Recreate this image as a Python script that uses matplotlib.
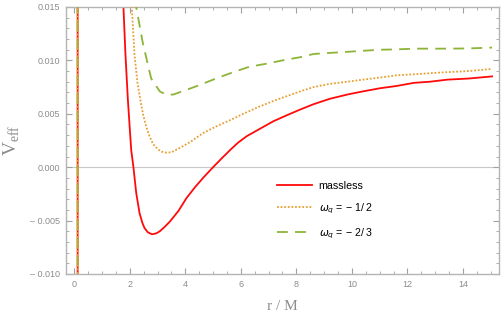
import numpy as np
import matplotlib
matplotlib.use("Agg")
import matplotlib.pyplot as plt
from matplotlib.ticker import FixedLocator, MultipleLocator

# values (r/M, V_eff); nan splits the spike near r~0.12
r_massless = [0.12, 0.12, np.nan, 1.75, 1.77, 1.84, 1.93, 2.05, 2.13, 2.23, 2.35, 2.45, 2.53,
              2.65, 2.80, 2.95, 3.08, 3.25, 3.44, 3.75, 4.04, 4.34, 4.64, 5.0, 5.3, 5.61,
              5.9, 6.21, 6.69, 7.17, 7.6, 8.14, 8.62, 9.2, 9.83, 10.4, 11.03, 11.6, 12.24,
              12.8, 13.45, 14.2, 15.05]
v_massless = [-0.011, 0.016, np.nan, 0.0165, 0.0150, 0.0107, 0.0063, 0.0016, 0.0000, -0.0024,
              -0.0043, -0.0052, -0.0057, -0.0061, -0.00628, -0.0062, -0.0060, -0.0056,
              -0.0051, -0.0041, -0.0029, -0.0019, -0.0010, 0.0000, 0.0008, 0.0016, 0.0023,
              0.0029, 0.0036, 0.0043, 0.0048, 0.0054, 0.0059, 0.0064, 0.0068, 0.0071,
              0.0074, 0.0076, 0.0079, 0.0080, 0.0082, 0.0083, 0.0085]

r_half = [0.12, 0.12, np.nan, 2.03, 2.07, 2.17, 2.27, 2.38, 2.48, 2.59, 2.71, 2.83, 3.0, 3.15,
          3.32, 3.5, 3.8, 4.2, 4.64, 5.1, 5.61, 6.09, 6.69, 7.17, 7.6, 8.14, 8.62, 9.2,
          9.83, 10.4, 11.03, 11.6, 12.24, 12.8, 13.45, 14.2, 15.05]
v_half = [-0.011, 0.016, np.nan, 0.0165, 0.0150, 0.0105, 0.0080, 0.0063, 0.0049, 0.0038,
          0.0029, 0.0022, 0.0017, 0.00145, 0.00136, 0.0014, 0.0018, 0.0024, 0.0032, 0.0038,
          0.0044, 0.0050, 0.0057, 0.0062, 0.0066, 0.0071, 0.0075, 0.0078, 0.0080, 0.0082,
          0.0084, 0.0086, 0.0087, 0.0088, 0.0089, 0.0090, 0.0092]

r_twothird = [0.12, 0.12, np.nan, 2.2, 2.23, 2.47, 2.77, 3.08, 3.3, 3.56, 4.0, 4.52, 5.1,
              5.73, 6.3, 6.94, 7.5, 8.14, 8.62, 9.2, 9.83, 10.4, 11.03, 11.6, 12.24, 12.8,
              13.45, 14.2, 15.05]
v_twothird = [-0.011, 0.016, np.nan, 0.0165, 0.0150, 0.0116, 0.0083, 0.0071, 0.0068, 0.0068,
              0.0072, 0.0077, 0.0083, 0.0089, 0.0094, 0.0097, 0.0100, 0.0103, 0.0106,
              0.0107, 0.0108, 0.0109, 0.0110, 0.01103, 0.0111, 0.0111, 0.0111, 0.01112,
              0.0112]

labels = ["massless", r"$\omega_q$ = − 1/ 2", r"$\omega_q$ = − 2/ 3"]
x_ticks = [0, 2, 4, 6, 8, 10, 12, 14]
y_ticks = [-0.010, -0.005, 0.000, 0.005, 0.010, 0.015]
y_ticklabels = ["– 0.010", "– 0.005", "0.000", "0.005", "0.010", "0.015"]

fig = plt.figure(figsize=(5.01, 3.18), dpi=100)
ax = fig.add_axes([0.1317, 0.1384, 0.8643, 0.8396])

gray = "#8c8c8c"
ax.axhline(0, color="#c8c8c8", lw=0.8, zorder=1)

ax.plot(r_massless, v_massless, color="#ff0a0a", lw=1.3, label=labels[0], zorder=2)
ax.plot(r_twothird, v_twothird, color="#8db438", lw=1.3, dashes=(6, 4), label=labels[1 + 1], zorder=3)
ax.plot(r_half, v_half, color="#e8a030", lw=1.3, linestyle=(0, (1, 1)), label=labels[1], zorder=4)

ax.set_xlim(-0.3, 15.3)
ax.set_ylim(-0.010, 0.015)

ax.xaxis.set_major_locator(FixedLocator(x_ticks))
ax.xaxis.set_minor_locator(MultipleLocator(0.5))
ax.yaxis.set_major_locator(FixedLocator(y_ticks))
ax.yaxis.set_minor_locator(MultipleLocator(0.001))
ax.set_yticklabels(y_ticklabels)

ax.tick_params(which="both", direction="in", top=True, right=True, color="#a0a0a0",
               labelcolor=gray, labelsize=6.5, pad=4)
ax.tick_params(which="major", length=4, width=0.8)
ax.tick_params(which="minor", length=2, width=0.6)
for lab in ax.get_xticklabels() + ax.get_yticklabels():
    lab.set_family("Liberation Sans")
for sp in ax.spines.values():
    sp.set_color("#b4b4b4")
    sp.set_linewidth(1.0)

ax.set_xlabel("r / M", family="Liberation Serif", fontsize=11, color=gray, labelpad=8)
ax.set_ylabel(r"V$_{\mathregular{eff}}$", family="Liberation Serif", fontsize=14, color=gray,
              labelpad=6)

h, l = ax.get_legend_handles_labels()
order = [0, 2, 1]
leg = ax.legend([h[i] for i in order], [l[i] for i in order], loc="upper left",
                bbox_to_anchor=(0.465, 0.385), frameon=False, handlelength=3.3,
                handletextpad=0.6, labelspacing=1.0, prop={"family": "Liberation Sans", "size": 7.7})

fig.savefig("out.png", dpi=100)
